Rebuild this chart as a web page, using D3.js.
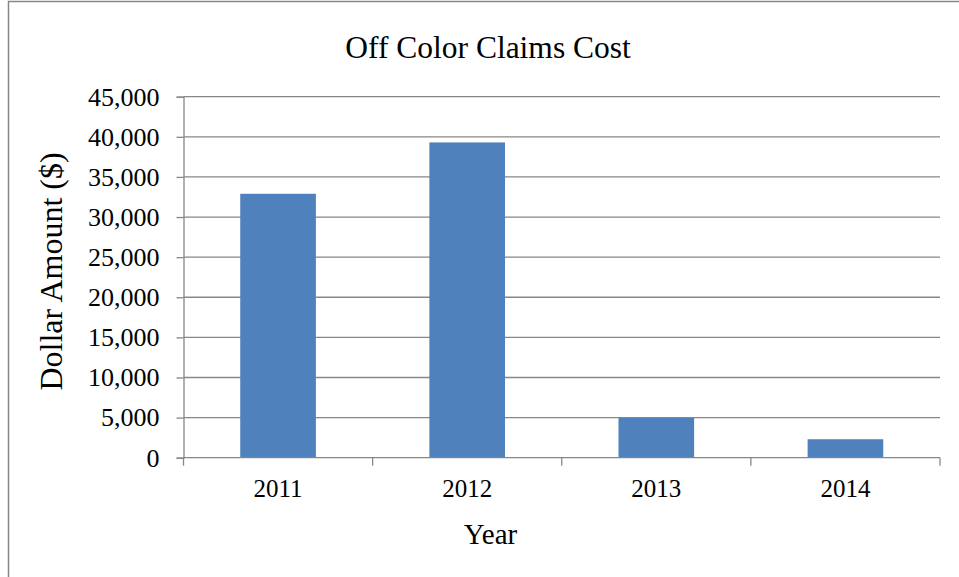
<!DOCTYPE html>
<html>
<head>
<meta charset="utf-8">
<script src="https://cdn.jsdelivr.net/npm/d3@7"></script>
<style>
  html, body { margin: 0; padding: 0; background: #fff; }
  svg { display: block; font-family: "Liberation Serif", "Times New Roman", serif; }
</style>
</head>
<body>
<svg id="chart" width="959" height="577"></svg>
<script>
// Yearly cost of off-color claims
const years = ["2011", "2012", "2013", "2014"];
const costs = [32900, 39300, 4950, 2300];
const yTicks = [0, 5000, 10000, 15000, 20000, 25000, 30000, 35000, 40000, 45000];

const svg = d3.select("#chart");
const W = 959, H = 577;
const plot = { left: 183.5, right: 940, top: 96.7, bottom: 457.7 };

// chart frame
svg.append("rect")
  .attr("x", 8.5).attr("y", 1.5)
  .attr("width", W + 10).attr("height", H + 10)
  .attr("fill", "#fff").attr("stroke", "#878787").attr("stroke-width", 1.5);

const x = d3.scaleBand().domain(years)
  .range([plot.left, plot.right])
  .paddingInner(0.6).paddingOuter(0.3);
const y = d3.scaleLinear().domain([0, 45000]).range([plot.bottom, plot.top]);

// horizontal gridlines
svg.append("g").selectAll("line").data(yTicks.filter(d => d > 0)).join("line")
  .attr("x1", plot.left).attr("x2", plot.right)
  .attr("y1", d => y(d)).attr("y2", d => y(d))
  .attr("stroke", "#878787").attr("stroke-width", 1.3);

// bars
svg.append("g").selectAll("rect").data(years).join("rect")
  .attr("x", d => x(d))
  .attr("width", x.bandwidth())
  .attr("y", (d, i) => y(costs[i]))
  .attr("height", (d, i) => y(0) - y(costs[i]))
  .attr("fill", "#4F81BD");

// y axis
const yAxis = svg.append("g")
  .attr("transform", `translate(${plot.left},0)`)
  .call(d3.axisLeft(y).tickValues(yTicks).tickSize(7).tickPadding(17)
    .tickFormat(d3.format(",")));
yAxis.select(".domain").attr("stroke", "#878787").attr("stroke-width", 1.3);
yAxis.selectAll(".tick line").attr("stroke", "#878787").attr("stroke-width", 1.3);
yAxis.selectAll("text").attr("font-size", 26).attr("fill", "#000")
  .attr("font-family", "Liberation Serif");

// x axis: ticks at category boundaries
const xAxisG = svg.append("g");
xAxisG.append("line")
  .attr("x1", plot.left).attr("x2", plot.right)
  .attr("y1", plot.bottom).attr("y2", plot.bottom)
  .attr("stroke", "#878787").attr("stroke-width", 1.3);
const bounds = d3.range(years.length + 1).map(i => plot.left + (plot.right - plot.left) * i / years.length);
xAxisG.selectAll("line.tk").data(bounds).join("line").attr("class", "tk")
  .attr("x1", d => d).attr("x2", d => d)
  .attr("y1", plot.bottom).attr("y2", plot.bottom + 8)
  .attr("stroke", "#878787").attr("stroke-width", 1.3);
xAxisG.selectAll("text").data(years).join("text")
  .attr("x", d => x(d) + x.bandwidth() / 2)
  .attr("y", 497)
  .attr("text-anchor", "middle")
  .attr("font-size", 25)
  .text(d => d);

// titles
svg.append("text").attr("x", 488).attr("y", 58)
  .attr("text-anchor", "middle").attr("font-size", 31.5)
  .text("Off Color Claims Cost");
svg.append("text").attr("x", 490.5).attr("y", 544)
  .attr("text-anchor", "middle").attr("font-size", 29)
  .text("Year");
svg.append("text")
  .attr("transform", "translate(62,271.5) rotate(-90)")
  .attr("text-anchor", "middle").attr("font-size", 32)
  .text("Dollar Amount ($)");
</script>
</body>
</html>
